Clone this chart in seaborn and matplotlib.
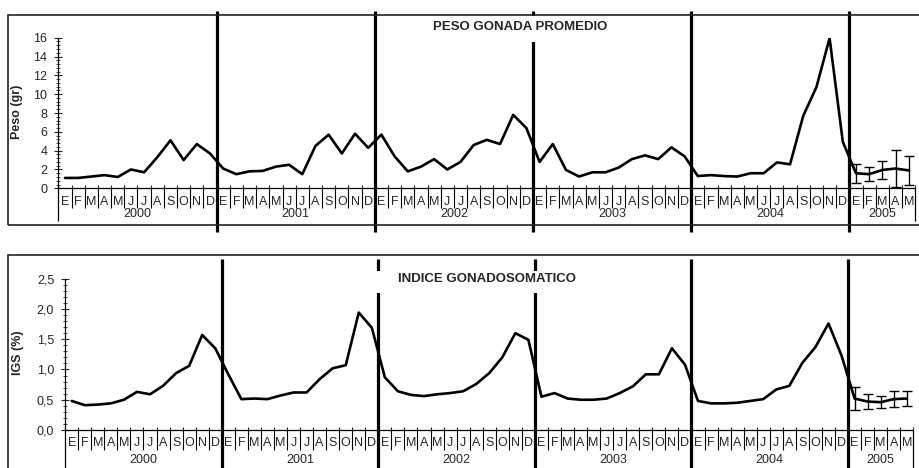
import numpy as np
import pandas as pd
import matplotlib
matplotlib.use("Agg")
import matplotlib.pyplot as plt
import seaborn as sns
from matplotlib.patches import Rectangle
from matplotlib.ticker import MultipleLocator

# ---------------------------------------------------------------- data
years = ["2000", "2001", "2002", "2003", "2004", "2005"]
months_per_year = [12, 12, 12, 12, 12, 5]
month_letters = ["E", "F", "M", "A", "M", "J", "J", "A", "S", "O", "N", "D"]

# mean gonad weight (g), one value per month from E-2000 to M-2005
peso_2000 = [1.1, 1.1, 1.25, 1.4, 1.2, 2.0, 1.7, 3.3, 5.1, 3.0, 4.7, 3.7]
peso_2001 = [2.1, 1.5, 1.8, 1.85, 2.3, 2.5, 1.5, 4.5, 5.7, 3.7, 5.8, 4.3]
peso_2002 = [5.7, 3.4, 1.8, 2.3, 3.1, 2.0, 2.8, 4.6, 5.15, 4.7, 7.8, 6.4]
peso_2003 = [2.8, 4.7, 1.95, 1.25, 1.7, 1.7, 2.2, 3.1, 3.5, 3.1, 4.35, 3.4]
peso_2004 = [1.3, 1.4, 1.3, 1.25, 1.6, 1.6, 2.75, 2.55, 7.7, 10.75, 15.95, 4.95]
peso_2005 = [1.6, 1.5, 1.95, 2.1, 1.9]
peso_err_2005 = [1.0, 0.75, 0.95, 2.0, 1.5]

# gonadosomatic index (%)
igs_2000 = [0.48, 0.41, 0.42, 0.44, 0.50, 0.63, 0.59, 0.73, 0.94, 1.06, 1.57, 1.35]
igs_2001 = [0.92, 0.51, 0.52, 0.51, 0.57, 0.62, 0.62, 0.84, 1.02, 1.07, 1.94, 1.69]
igs_2002 = [0.87, 0.64, 0.58, 0.56, 0.59, 0.61, 0.64, 0.76, 0.94, 1.20, 1.60, 1.49]
igs_2003 = [0.55, 0.61, 0.52, 0.50, 0.50, 0.52, 0.61, 0.72, 0.92, 0.92, 1.35, 1.08]
igs_2004 = [0.48, 0.44, 0.44, 0.45, 0.48, 0.51, 0.67, 0.73, 1.11, 1.37, 1.76, 1.23]
igs_2005 = [0.52, 0.47, 0.46, 0.51, 0.52]
igs_err_2005 = [0.19, 0.12, 0.10, 0.13, 0.12]

peso_ticks = [0, 2, 4, 6, 8, 10, 12, 14, 16]
peso_ticklabels = ["0", "2", "4", "6", "8", "10", "12", "14", "16"]
igs_ticks = [0.0, 0.5, 1.0, 1.5, 2.0, 2.5]
igs_ticklabels = ["0,0", "0,5", "1,0", "1,5", "2,0", "2,5"]

peso = peso_2000 + peso_2001 + peso_2002 + peso_2003 + peso_2004 + peso_2005
igs = igs_2000 + igs_2001 + igs_2002 + igs_2003 + igs_2004 + igs_2005

labels = [month_letters[m] for n in months_per_year for m in range(n)]
df = pd.DataFrame({"mes": np.arange(len(labels)), "letra": labels,
                   "peso": peso, "igs": igs})

# ---------------------------------------------------------------- style
sns.set_style("white")
plt.rcParams["font.family"] = ["Liberation Sans", "DejaVu Sans"]
LABEL_FS = 9
TITLE_FS = 9.5
YLAB_FS = 9

W, H = 919, 468
fig = plt.figure(figsize=(W / 100, H / 100), dpi=100)
fig.patch.set_facecolor("white")


def fx(px):
    return px / W


def fy(py):
    return 1 - py / H


def make_axes(x0, x1, y_top, y_bot):
    return fig.add_axes([fx(x0), fy(y_bot), fx(x1) - fx(x0), (y_bot - y_top) / H])


def category_axis(ax, ax_h, sep_d, month_d, year_d, edge_d, line_top, line_bot):
    """Two-level month / year axis under the plot (distances in px below the axis)."""
    n = len(labels)
    tr = ax.get_xaxis_transform()
    f = lambda d: -d / ax_h
    for i, lab in enumerate(labels):
        ax.text(i, f(month_d), lab, transform=tr, ha="center", va="center",
                fontsize=LABEL_FS, clip_on=False)
    starts = np.cumsum([0] + months_per_year[:-1])
    for s, n_m, yr in zip(starts, months_per_year, years):
        ax.text(s + (n_m - 1) / 2, f(year_d), yr, transform=tr, ha="center",
                va="center", fontsize=LABEL_FS, clip_on=False)
    for b in np.arange(0.5, n - 1, 1.0):
        ax.plot([b, b], [0, f(sep_d)], transform=tr, color="black", lw=0.8,
                clip_on=False, solid_capstyle="butt")
    for b in (-0.5, n - 0.5):
        ax.plot([b, b], [0, f(edge_d)], transform=tr, color="black", lw=0.9,
                clip_on=False, solid_capstyle="butt")
    for b in starts[1:] - 0.5:
        ax.plot([b, b], [line_top, line_bot], transform=tr, color="black",
                lw=2.3, clip_on=False, solid_capstyle="butt", zorder=3)
    ax.set_xlim(-0.5, n - 0.5)
    ax.set_xticks(np.arange(-0.5, n, 1.0))
    ax.tick_params(axis="x", direction="in", length=2.5, width=0.8,
                   labelbottom=False, bottom=True)


def value_axis(ax, ticks, ticklabels, minor):
    ax.set_yticks(ticks)
    ax.set_yticklabels(ticklabels)
    ax.set_ylim(ticks[0], ticks[-1])
    ax.yaxis.set_minor_locator(MultipleLocator(minor))
    ax.tick_params(axis="y", which="major", direction="inout", length=6,
                   width=0.8, pad=5, labelsize=LABEL_FS, left=True)
    ax.tick_params(axis="y", which="minor", direction="inout", length=3,
                   width=0.6, left=True)
    for side in ("top", "right"):
        ax.spines[side].set_visible(False)
    for side in ("left", "bottom"):
        ax.spines[side].set_color("black")
        ax.spines[side].set_linewidth(0.9)
    ax.set_xlabel("")
    ax.set_ylabel("")
    ax.set_facecolor("none")


# ---------------------------------------------------------------- top panel
fig.patches.append(Rectangle((fx(8), fy(225)), fx(930) - fx(8), fy(15) - fy(225),
                             transform=fig.transFigure, fill=False,
                             edgecolor="#222222", lw=1.2, zorder=0))
ax1 = make_axes(58.4, 915.3, 37.7, 188.3)
sns.lineplot(data=df, x="mes", y="peso", ax=ax1, color="black", lw=1.9,
             legend=False, zorder=4)
last = df.iloc[-len(peso_2005):]
ax1.errorbar(last["mes"], last["peso"], yerr=peso_err_2005, fmt="none",
             ecolor="black", elinewidth=1.0, capsize=3.5, capthick=1.0,
             zorder=4, clip_on=False)
value_axis(ax1, peso_ticks, peso_ticklabels, 0.4)
h1 = 188.3 - 37.7
category_axis(ax1, h1, sep_d=20, month_d=14, year_d=26, edge_d=33,
              line_top=(188.3 - 11) / h1, line_bot=(188.3 - 232) / h1)
fig.patches.append(Rectangle((fx(420), fy(41.5)), fx(625) - fx(420), fy(16.5) - fy(41.5),
                             transform=fig.transFigure, facecolor="white",
                             edgecolor="none", zorder=5))
fig.text(fx(520), fy(26.7), "PESO GONADA PROMEDIO", ha="center", va="center",
         fontsize=TITLE_FS, fontweight="bold", zorder=6)
fig.text(fx(17), fy(112), "Peso (gr)", rotation=90, ha="center", va="center",
         fontsize=YLAB_FS, fontweight="bold")

# ---------------------------------------------------------------- bottom panel
fig.patches.append(Rectangle((fx(8), fy(475)), fx(930) - fx(8), fy(255) - fy(475),
                             transform=fig.transFigure, fill=False,
                             edgecolor="#222222", lw=1.2, zorder=0))
ax2 = make_axes(65.2, 913.3, 278.7, 430)
sns.lineplot(data=df, x="mes", y="igs", ax=ax2, color="black", lw=1.9,
             legend=False, zorder=4)
last = df.iloc[-len(igs_2005):]
ax2.errorbar(last["mes"], last["igs"], yerr=igs_err_2005, fmt="none",
             ecolor="black", elinewidth=1.0, capsize=3.5, capthick=1.0,
             zorder=4, clip_on=False)
value_axis(ax2, igs_ticks, igs_ticklabels, 0.1)
h2 = 430 - 278.7
category_axis(ax2, h2, sep_d=20, month_d=13, year_d=30, edge_d=45,
              line_top=(430 - 259) / h2, line_bot=(430 - 470) / h2)
fig.patches.append(Rectangle((fx(372), fy(293)), fx(590) - fx(372), fy(271) - fy(293),
                             transform=fig.transFigure, facecolor="white",
                             edgecolor="none", zorder=5))
fig.text(fx(487), fy(279), "INDICE GONADOSOMATICO", ha="center", va="center",
         fontsize=TITLE_FS, fontweight="bold", zorder=6)
fig.text(fx(18), fy(353), "IGS (%)", rotation=90, ha="center", va="center",
         fontsize=YLAB_FS, fontweight="bold")

fig.savefig("out.png", dpi=100, facecolor="white")
